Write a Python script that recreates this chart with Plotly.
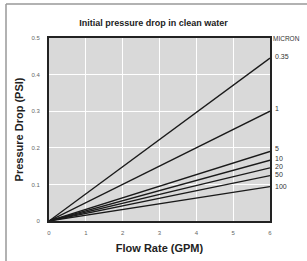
import plotly.graph_objects as go

flow = [0, 6]
microns = ["0.35", "1", "5", "10", "20", "50", "100"]
drop_at_6 = [0.445, 0.30, 0.19, 0.166, 0.145, 0.124, 0.094]
label_y = [0.45, 0.307, 0.198, 0.172, 0.15, 0.128, 0.095]

x_ticks = [0, 1, 2, 3, 4, 5, 6]
y_ticks = [0, 0.1, 0.2, 0.3, 0.4, 0.5]

font_fam = "Liberation Sans Narrow, Arial Narrow, Liberation Sans, Arial, sans-serif"

fig = go.Figure()
for m, v in zip(microns, drop_at_6):
    fig.add_trace(go.Scatter(x=flow, y=[0, v], mode="lines",
                             line=dict(color="#1a1a1a", width=1.3),
                             name=m, showlegend=False, hoverinfo="skip"))

for m, ly in zip(microns, label_y):
    fig.add_annotation(x=6, y=ly, xref="x", yref="y", text=m, showarrow=False,
                       xanchor="left", yanchor="middle", xshift=3,
                       font=dict(size=7, color="#333333", family=font_fam))
fig.add_annotation(x=6, y=0.5, xref="x", yref="y", text="MICRON", showarrow=False,
                   xanchor="left", yanchor="middle", xshift=1,
                   font=dict(size=6.5, color="#333333", family=font_fam))

fig.update_layout(
    width=307, height=261,
    margin=dict(l=49, r=37, t=38, b=40),
    paper_bgcolor="white",
    plot_bgcolor="#d9d9d9",
    title=dict(text="<b>Initial pressure drop in clean water</b>", x=0.5, xanchor="center",
               y=1 - 23 / 261, yanchor="middle",
               font=dict(size=9, color="#222222", family=font_fam)),
    xaxis=dict(range=[0, 6], tickvals=x_ticks, ticktext=[str(t) for t in x_ticks],
               showgrid=True, gridcolor="white", gridwidth=1, zeroline=False,
               showline=True, linecolor="#222222", linewidth=2, mirror=True,
               ticks="", ticklabelstandoff=5, automargin=False,
               tickfont=dict(size=6, color="#666666", family=font_fam),
               title=dict(text="<b>Flow Rate (GPM)</b>", standoff=9,
                          font=dict(size=11, color="#222222", family=font_fam))),
    yaxis=dict(range=[0, 0.5], tickvals=y_ticks, ticktext=["0", "0.1", "0.2", "0.3", "0.4", "0.5"],
               showgrid=True, gridcolor="white", gridwidth=1, zeroline=False,
               showline=True, linecolor="#222222", linewidth=2, mirror=True,
               ticks="", ticklabelstandoff=6, automargin=False,
               tickfont=dict(size=6, color="#666666", family=font_fam),
               title=dict(text="<b>Pressure Drop (PSI)</b>", standoff=6,
                          font=dict(size=11, color="#222222", family=font_fam))),
)

# outer frame lines (left and top)
fig.add_shape(type="line", xref="paper", yref="paper",
              x0=-43 / 221, x1=-43 / 221, y0=-40 / 183, y1=(183 + 34) / 183,
              line=dict(color="#999999", width=1.5))
fig.add_shape(type="line", xref="paper", yref="paper",
              x0=-43 / 221, x1=(221 + 37) / 221, y0=(183 + 34) / 183, y1=(183 + 34) / 183,
              line=dict(color="#999999", width=1.5))

fig.write_html("out.html", config={"displayModeBar": False},
               post_script="document.body.style.margin='0';document.body.style.overflow='hidden';")
